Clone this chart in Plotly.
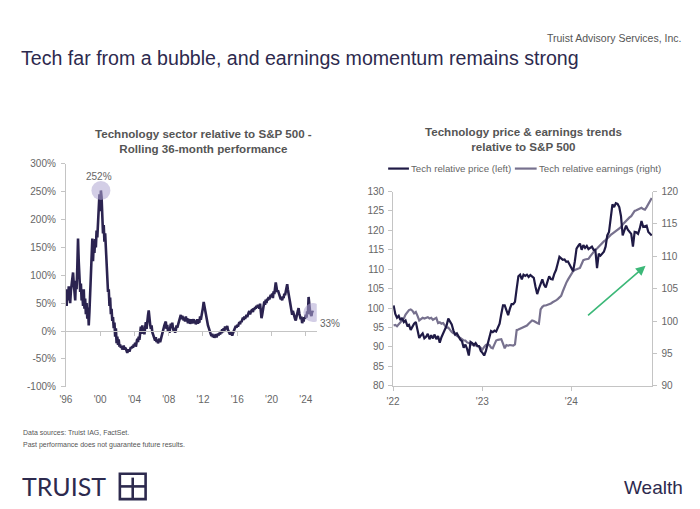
import pandas as pd
import plotly.graph_objects as go

# ---------------- Data ----------------
# Left: Technology sector relative to S&P 500, rolling 36-month performance (%), monthly from Jan 1996
rel36_1996 = [75, 45, 72, 55, 80, 60, 50, 72, 88, 100, 105, 85]
rel36_1997 = [65, 55, 90, 75, 115, 166, 125, 95, 70, 85, 55, 65]
rel36_1998 = [45, 75, 40, 58, 30, 50, 22, 42, 10, 35, 70, 110]
rel36_1999 = [150, 166, 125, 155, 140, 165, 150, 180, 168, 190, 225, 245]
rel36_2000 = [215, 252, 240, 195, 175, 190, 160, 175, 145, 115, 95, 70]
rel36_2001 = [75, 45, 60, 30, 40, 18, 25, 5, 15, -10, 5, -22]
rel36_2002 = [-10, -25, -15, -28, -24, -30, -27, -33, -30, -26, -33, -30]
rel36_2003 = [-32, -35, -39, -36, -33, -37, -34, -29, -31, -27, -30, -24]
rel36_2004 = [-26, -21, -28, -18, -14, -20, -10, -16, -6, 8, -5, 10]
rel36_2005 = [-2, 6, -6, 12, 16, 4, 22, 28, 37, 18, 12, 4]
rel36_2006 = [10, -2, -6, -10, -13, -17, -11, -20, -15, -22, -17, -14]
rel36_2007 = [-20, -14, -9, -4, 2, 6, 10, 14, 17, 4, 11, 0]
rel36_2008 = [6, -3, 10, 13, 7, 15, 5, 0, 6, -3, 2, 10]
rel36_2009 = [6, 12, 16, 22, 27, 29, 21, 27, 24, 19, 24, 17]
rel36_2010 = [26, 19, 23, 14, 19, 21, 13, 18, 21, 14, 18, 21]
rel36_2011 = [14, 19, 12, 16, 21, 13, 18, 15, 26, 20, 31, 36]
rel36_2012 = [42, 52, 45, 35, 28, 20, 16, 10, 6, 0, -3, -6]
rel36_2013 = [-9, -5, -11, -7, -12, -9, -6, -11, -8, -5, -8, -3]
rel36_2014 = [-6, 0, -4, 3, -2, 5, 0, 8, 3, 6, 9, 2]
rel36_2015 = [0, -4, -6, -2, -5, -8, -4, 0, 4, 6, 9, 6]
rel36_2016 = [11, 8, 13, 16, 12, 18, 16, 21, 24, 20, 26, 22]
rel36_2017 = [26, 29, 25, 31, 33, 36, 30, 34, 36, 39, 34, 41]
rel36_2018 = [38, 43, 40, 45, 42, 47, 44, 40, 49, 31, 23, 29]
rel36_2019 = [40, 46, 53, 47, 56, 50, 58, 55, 61, 57, 63, 65]
rel36_2020 = [62, 67, 59, 71, 66, 76, 87, 79, 70, 73, 67, 65]
rel36_2021 = [61, 57, 60, 55, 62, 59, 67, 64, 73, 79, 84, 74]
rel36_2022 = [69, 59, 52, 44, 35, 29, 36, 30, 25, 22, 19, 28]
rel36_2023 = [31, 36, 41, 32, 28, 21, 26, 14, 20, 17, 25, 22]
rel36_2024 = [29, 24, 35, 30, 61, 40, 36, 30, 27, 36, 33]

rel36 = (rel36_1996 + rel36_1997 + rel36_1998 + rel36_1999 + rel36_2000 + rel36_2001 +
         rel36_2002 + rel36_2003 + rel36_2004 + rel36_2005 + rel36_2006 + rel36_2007 +
         rel36_2008 + rel36_2009 + rel36_2010 + rel36_2011 + rel36_2012 + rel36_2013 +
         rel36_2014 + rel36_2015 + rel36_2016 + rel36_2017 + rel36_2018 + rel36_2019 +
         rel36_2020 + rel36_2021 + rel36_2022 + rel36_2023 + rel36_2024)
rel36_dates = pd.date_range("1996-01-01", periods=len(rel36), freq="MS")

left_tick_years = [1996, 2000, 2004, 2008, 2012, 2016, 2020, 2024]
left_tick_text = ["'96", "'00", "'04", "'08", "'12", "'16", "'20", "'24"]
left_y_ticks = [-100, -50, 0, 50, 100, 150, 200, 250, 300]

# Right: weekly, from first week of 2022
tech_price = [
    100.7, 98.5, 97.5, 98.0, 96.9, 97.5, 96.4, 96.8, 95.5, 95.7, 94.4, 95.2, 96.0, 96.4, 94.0, 92.3,
    93.0, 93.5, 92.2, 92.6, 93.4, 92.0, 93.0, 92.2, 93.2, 92.0, 92.8, 91.1, 92.5, 93.5, 94.5, 95.5,
    97.3, 96.5, 95.8, 94.2, 93.2, 93.5, 92.5, 91.9, 91.5, 89.8, 90.6, 89.5, 87.8, 91.3, 91.0, 90.5,
    91.0, 90.3, 90.2, 89.0, 88.5, 87.8, 89.0, 90.6, 92.5, 94.1, 93.8, 94.2, 94.0, 95.0, 96.0, 98.5,
    100.7, 100.7, 99.5, 98.2, 99.8, 101.0, 101.0, 101.6, 105.0, 108.2, 108.6, 107.4, 108.6, 108.3, 108.6, 108.0,
    108.5, 108.2, 107.8, 105.5, 103.6, 105.0, 106.5, 107.4, 106.0, 105.3, 106.8, 108.2, 107.5, 107.4, 108.8, 109.8,
    111.5, 113.2, 112.8, 112.4, 112.5, 111.9, 112.0, 111.2, 110.5, 109.5, 112.0, 115.3, 116.0, 116.6, 115.0, 116.2,
    115.5, 116.0, 115.2, 115.5, 115.8, 115.0, 115.0, 110.3, 114.0, 113.5, 113.9, 114.5, 115.8, 118.7, 119.6, 123.0,
    126.7, 126.0, 127.0, 126.8, 126.0, 123.7, 118.7, 120.0, 121.2, 120.2, 119.5, 119.1, 115.8, 119.6, 119.5, 119.1,
    120.5, 122.4, 120.9, 121.0, 121.2, 119.6, 119.2, 118.7,
]
tech_earnings = [
    99.3, 99.4, 99.2, 99.5, 99.8, 100.2, 100.4, 101.0, 101.4, 101.7, 101.8, 101.6, 101.2, 101.4, 100.8, 100.1,
    100.3, 100.5, 100.4, 100.5, 100.6, 100.4, 100.5, 100.2, 100.4, 100.5, 99.7, 99.8, 99.6, 99.7, 99.3, 99.0,
    99.0, 98.6, 98.3, 98.1, 98.0, 97.7, 97.6, 97.4, 97.2, 97.0, 97.0, 96.7, 96.6, 96.5, 96.3, 96.2,
    96.3, 96.1, 96.1, 95.9, 95.6, 96.0, 96.3, 96.4, 96.3, 95.9, 95.8, 96.4, 97.0, 97.1, 97.2, 97.2,
    96.5, 95.8, 96.3, 96.2, 96.3, 96.2, 96.2, 96.4, 98.6, 98.7, 98.8, 98.9, 99.0, 99.1, 99.3, 99.6,
    99.8, 100.1, 100.0, 99.8, 99.7, 99.6, 101.8, 102.2, 102.4, 102.4, 102.5, 102.5, 102.7, 102.9, 103.0, 103.2,
    103.4, 103.6, 103.9, 104.6, 105.4, 105.9, 106.4, 106.9, 107.4, 107.7, 107.9, 108.0, 108.1, 108.2, 108.8, 109.4,
    109.5, 109.5, 109.6, 110.0, 110.4, 110.7, 111.0, 111.2, 111.5, 111.8, 112.0, 112.3, 112.5, 112.8, 113.0, 113.3,
    113.5, 113.7, 113.8, 114.0, 114.2, 114.5, 114.9, 115.2, 115.4, 115.7, 116.0, 116.2, 116.6, 117.0, 117.1, 117.2,
    117.4, 117.5, 117.3, 117.2, 117.6, 118.0, 118.5, 119.0,
]
week_dates = pd.date_range("2022-01-03", periods=len(tech_price), freq="W-MON")

right_tick_dates = ["2022-01-01", "2023-01-01", "2024-01-01"]
right_tick_text = ["'22", "'23", "'24"]

# ---------------- Style ----------------
W, H = 700, 509
FONT = "Liberation Sans, Arial, sans-serif"
NAVY = "#2b2350"
PRICE_C = "#1f1a45"
EARN_C = "#77718e"
AX = "#c4c4c4"
TXT = "#666666"
TITLE_GREY = "#555555"


def px(x):
    return x / W


def py(y):
    return 1 - y / H


fig = go.Figure()

# Left chart line
fig.add_trace(go.Scatter(x=rel36_dates, y=rel36, mode="lines",
                         line=dict(color=NAVY, width=2.6), xaxis="x", yaxis="y",
                         hoverinfo="skip", showlegend=False))

# Highlight circles (peak and latest)
peak_i = max(range(len(rel36)), key=lambda i: rel36[i])
fig.add_trace(go.Scatter(x=[rel36_dates[peak_i], rel36_dates[-1]],
                         y=[rel36[peak_i], rel36[-1]], mode="markers",
                         marker=dict(size=19, color="rgba(175,165,210,0.55)", line=dict(width=0)),
                         xaxis="x3", yaxis="y", hoverinfo="skip", showlegend=False))

# Right chart lines (earnings on base axis, price on overlay so it is drawn on top)
fig.add_trace(go.Scatter(x=week_dates, y=tech_earnings, mode="lines",
                         line=dict(color=EARN_C, width=2.2), xaxis="x2", yaxis="y2",
                         hoverinfo="skip", showlegend=False))
fig.add_trace(go.Scatter(x=week_dates, y=tech_price, mode="lines",
                         line=dict(color=PRICE_C, width=2.2), xaxis="x2", yaxis="y4",
                         hoverinfo="skip", showlegend=False))

left_dom_x = [px(59.5), px(312.9)]
left_dom_y = [py(390), py(161.5)]
zero_pos = left_dom_y[0] + (0 - (-100)) / 400 * (left_dom_y[1] - left_dom_y[0])
left_tickvals = [f"{y}-01-01" for y in left_tick_years]
left_range = ["1996-01-01", "2025-04-15"]

right_dom_x = [px(390), px(652)]
right_dom_y = [py(389), py(190)]

tickfont = dict(family=FONT, size=10, color=TXT)

fig.update_layout(
    width=W, height=H, margin=dict(l=0, r=0, t=0, b=0),
    paper_bgcolor="white", plot_bgcolor="white",
    font=dict(family=FONT, color=TXT),
    showlegend=False,
    xaxis=dict(domain=left_dom_x, anchor="y", type="date", range=left_range,
               tickvals=left_tickvals, ticktext=left_tick_text, showline=False,
               ticks="", showgrid=False, zeroline=False, tickfont=tickfont, ticklabelstandoff=5),
    xaxis3=dict(overlaying="x", anchor="free", position=zero_pos, type="date", range=left_range,
                tickvals=left_tickvals, showticklabels=False, showline=True, linecolor=AX,
                linewidth=1, ticks="outside", ticklen=4, tickcolor=AX, showgrid=False, zeroline=False),
    yaxis=dict(domain=left_dom_y, anchor="x", range=[-100, 300], tickvals=left_y_ticks,
               ticktext=[f"{v}%" for v in left_y_ticks], showline=True, linecolor=AX,
               ticks="outside", ticklen=4, tickcolor=AX, showgrid=False, zeroline=False,
               tickfont=tickfont, ticklabelstandoff=3),
    xaxis2=dict(domain=right_dom_x, anchor="y2", type="date", range=["2022-01-01", "2024-11-28"],
                tickvals=right_tick_dates, ticktext=right_tick_text, showline=True, linecolor=AX,
                ticks="outside", ticklen=4, tickcolor=AX, showgrid=False, zeroline=False,
                tickfont=tickfont, ticklabelstandoff=2),
    yaxis2=dict(domain=right_dom_y, anchor="x2", side="right", range=[90, 120], dtick=5,
                showline=True, linecolor=AX, ticks="outside", ticklen=4, tickcolor=AX,
                showgrid=False, zeroline=False, tickfont=tickfont, ticklabelstandoff=2),
    yaxis4=dict(overlaying="y2", anchor="x2", side="left", range=[80, 130], dtick=5,
                showline=True, linecolor=AX, ticks="outside", ticklen=4, tickcolor=AX,
                showgrid=False, zeroline=False, tickfont=tickfont, ticklabelstandoff=2),
)

ann = []
# Header
ann.append(dict(x=px(683), y=py(33), xref="paper", yref="paper", xanchor="right", yanchor="middle",
                text="Truist Advisory Services, Inc.", showarrow=False,
                font=dict(family=FONT, size=10.5, color="#555555")))
ann.append(dict(x=px(12), y=py(53), xref="paper", yref="paper", xanchor="left", yanchor="middle",
                text="Tech far from a bubble, and earnings momentum remains strong", showarrow=False,
                font=dict(family=FONT, size=19.6, color="#2d2a4e")))
# Chart titles
ann.append(dict(x=px(198), y=py(138), xref="paper", yref="paper", xanchor="center", yanchor="middle",
                text="<b>Technology sector relative to S&P 500 -<br>Rolling 36-month performance</b>",
                showarrow=False, font=dict(family=FONT, size=11.6, color=TITLE_GREY)))
ann.append(dict(x=px(522), y=py(136.5), xref="paper", yref="paper", xanchor="center", yanchor="middle",
                text="<b>Technology price & earnings trends<br>relative to S&P 500</b>",
                showarrow=False, font=dict(family=FONT, size=11.6, color=TITLE_GREY)))
# Point labels
ann.append(dict(x=rel36_dates[peak_i], y=rel36[peak_i], xref="x3", yref="y", text=f"{rel36[peak_i]}%",
                showarrow=False, yshift=14, xshift=-2, font=dict(family=FONT, size=10, color=TXT)))
ann.append(dict(x=rel36_dates[-1], y=rel36[-1], xref="x3", yref="y", text=f"{rel36[-1]}%",
                showarrow=False, xanchor="left", xshift=5, yshift=-11,
                font=dict(family=FONT, size=10, color=TXT)))
# Manual legend
ann.append(dict(x=px(406), y=py(166), xref="paper", yref="paper", xanchor="left", yanchor="middle",
                text="Tech relative price (left)", showarrow=False,
                font=dict(family=FONT, size=9.7, color=TXT)))
ann.append(dict(x=px(535), y=py(166), xref="paper", yref="paper", xanchor="left", yanchor="middle",
                text="Tech relative earnings (right)", showarrow=False,
                font=dict(family=FONT, size=9.7, color=TXT)))
# Green trend arrow
ann.append(dict(x=px(645), y=py(266), xref="paper", yref="paper", ax=-59, ay=51,
                axref="pixel", ayref="pixel", text="", showarrow=True, arrowhead=2,
                arrowsize=1.2, arrowwidth=1.6, arrowcolor="#3cb878"))
# Footer
ann.append(dict(x=px(14), y=py(437), xref="paper", yref="paper", xanchor="left", yanchor="middle",
                text="Data sources: Truist IAG, FactSet.", showarrow=False,
                font=dict(family=FONT, size=7, color="#555555")))
ann.append(dict(x=px(14), y=py(450), xref="paper", yref="paper", xanchor="left", yanchor="middle",
                text="Past performance does not guarantee future results.", showarrow=False,
                font=dict(family=FONT, size=7, color="#555555")))
ann.append(dict(x=px(13), y=py(492), xref="paper", yref="paper", xanchor="left", yanchor="middle",
                text="TRUIST", showarrow=False,
                font=dict(family="Lato, Liberation Sans, sans-serif", size=25, color="#2d2a4e")))
ann.append(dict(x=px(685), y=py(493), xref="paper", yref="paper", xanchor="right", yanchor="middle",
                text="Wealth", showarrow=False,
                font=dict(family=FONT, size=19, color="#2d2a4e")))
fig.update_layout(annotations=ann)

shapes = []
# legend line samples
shapes.append(dict(type="line", xref="paper", yref="paper", x0=px(385), x1=px(406),
                   y0=py(166.5), y1=py(166.5), line=dict(color=PRICE_C, width=2.2)))
shapes.append(dict(type="line", xref="paper", yref="paper", x0=px(513), x1=px(535),
                   y0=py(166.5), y1=py(166.5), line=dict(color=EARN_C, width=2.2)))
# Truist logo mark
L, R, T, B = 114, 140, 479, 505
LOGO = "#2d2a4e"
shapes.append(dict(type="rect", xref="paper", yref="paper", x0=px(L), x1=px(R), y0=py(B), y1=py(T),
                   line=dict(color=LOGO, width=2.6)))
shapes.append(dict(type="line", xref="paper", yref="paper", x0=px((L + R) / 2), x1=px((L + R) / 2),
                   y0=py(T + 4), y1=py(B), line=dict(color=LOGO, width=2.6)))
shapes.append(dict(type="line", xref="paper", yref="paper", x0=px(L), x1=px(R),
                   y0=py((T + B) / 2), y1=py((T + B) / 2), line=dict(color=LOGO, width=2.6)))
fig.update_layout(shapes=shapes)

fig.write_html("out.html")
